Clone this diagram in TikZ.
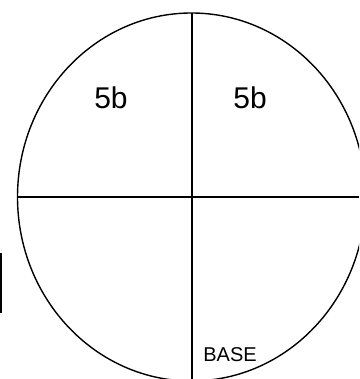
\documentclass[tikz,border=0pt]{standalone}
\usepackage{fontspec}
\setmainfont{Liberation Sans}
\begin{document}
\begin{tikzpicture}[x=1pt,y=-1pt,
  outline/.style={draw=black,line width=1.4pt},
  axis/.style={draw=black,line width=1.6pt},
  lbl/.style={inner sep=0pt,font=\fontsize{30}{30}\selectfont},
  small/.style={inner sep=0pt,font=\fontsize{20}{20}\selectfont}]
\useasboundingbox (0,0) rectangle (359,379);
\begin{scope}
\clip (0,0) rectangle (359,379);
\draw[outline] (191.5,197) ellipse [x radius=174, y radius=184];
\coordinate (top) at (192,13);
\coordinate (bot) at (192,379);
\coordinate (lft) at (17.5,197);
\coordinate (rgt) at (359,197);
\draw[axis] (top) -- (bot);
\draw[axis] (lft) -- (rgt);
\coordinate (s1) at (1,253);
\coordinate (s2) at (1,313);
\draw[axis] (s1) -- (s2);
\end{scope}
\node[lbl] (q1) at (111,98) {5b};
\node[lbl] (q2) at (250,98) {5b};
\node[small] (base) at (230,355) {BASE};
\end{tikzpicture}
\end{document}
